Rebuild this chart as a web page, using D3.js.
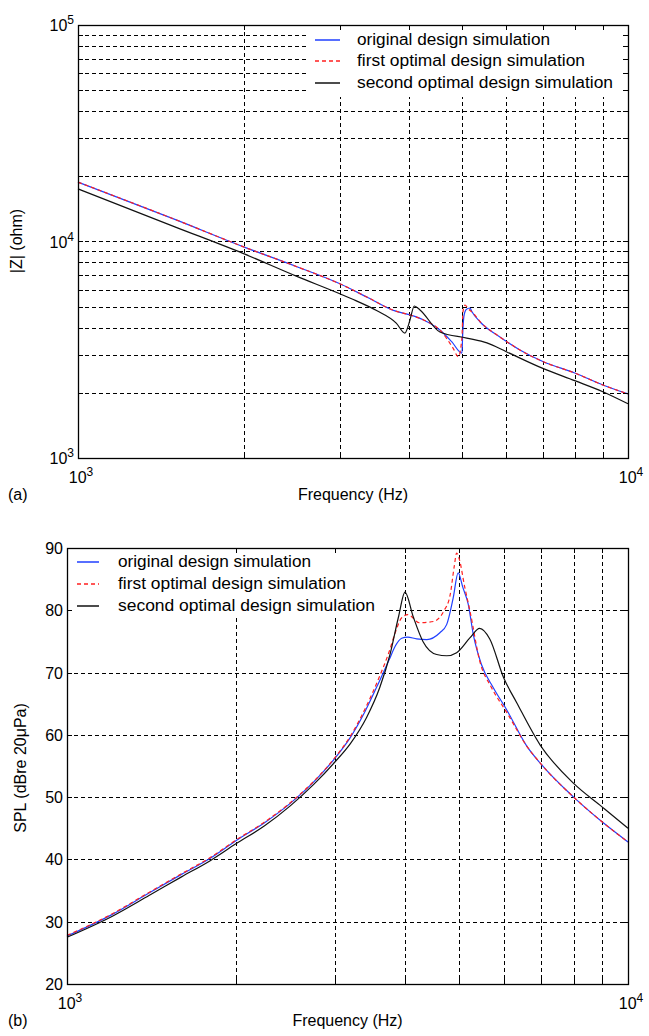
<!DOCTYPE html>
<html><head><meta charset="utf-8">
<script src="https://cdn.jsdelivr.net/npm/d3@7"></script>
<style>
body{margin:0;background:#fff}
text{font-family:"Liberation Sans",Arial,Helvetica,sans-serif;fill:#000}
</style>
</head><body>
<svg id="chart" width="649" height="1036"></svg>
<script>
// ---------- DATA ----------
const seriesNames = ["original design simulation", "first optimal design simulation", "second optimal design simulation"];

// (a) impedance |Z| (ohm) vs frequency (Hz)
const zFreqOriginal = [1000,1500,2000,2500,3000,3370,3770,4015,4250,4550,4780,4990,5005,5030,5080,5160,5200,5380,5850,6360,7000,8000,9000,10000];
const zOriginal     = [18800,12650,9450,7650,6360,5500,4780,4580,4340,3900,3445,3050,3700,4500,4850,4930,4750,4260,3620,3155,2790,2470,2175,1977];
const zFreqFirst    = [1000,1500,2000,2500,3000,3370,3770,4015,4250,4550,4810,4915,4990,5010,5053,5120,5233,5383,5850,6360,7000,8000,9000,10000];
const zFirst        = [18800,12650,9450,7650,6360,5500,4780,4580,4340,3900,3210,2937,3600,4700,5090,4900,4660,4264,3620,3155,2790,2470,2175,1977];
const zFreqSecond   = [1000,1500,2000,2500,3000,3200,3490,3790,3931,3975,4015,4088,4186,4550,5090,5540,6020,7000,8000,9000,10000];
const zSecond       = [17500,11690,8790,6900,5720,5330,4800,4200,3777,4000,4350,5037,4830,3820,3580,3400,3090,2594,2277,2024,1780];

// (b) SPL (dB re 20 uPa) vs frequency (Hz)
const sFreqOriginal = [1000,1200,1400,1600,1800,2000,2250,2500,2750,3000,3200,3400,3600,3750,3850,3950,4050,4200,4380,4620,4750,4880,4980,5080,5190,5300,5480,5750,6080,6600,7000,8000,9000,10000];
const sOriginal     = [27.7,31.1,34.6,37.6,40.2,43.0,45.9,49.0,52.4,56.2,59.6,63.8,68.5,72.0,74.3,75.5,75.7,75.4,75.3,76.4,77.7,82.0,86.0,83.6,81.0,76.1,71.3,67.6,64.0,58.2,55.3,50.0,46.0,42.8];
const sFreqFirst    = [1000,1200,1400,1600,1800,2000,2250,2500,2750,3000,3200,3400,3600,3750,3850,3950,4050,4250,4500,4690,4820,4900,4950,5000,5120,5230,5440,5710,6080,6600,7000,8000,9000,10000];
const sFirst        = [27.8,31.2,34.7,37.7,40.3,43.1,46.0,49.1,52.5,56.3,59.8,64.2,69.2,73.3,76.5,78.8,79.3,78.0,78.2,79.8,82.5,87.0,89.2,88.3,83.6,79.8,71.9,67.6,63.6,58.2,55.3,50.0,46.0,42.8];
const sFreqSecond   = [1000,1200,1400,1600,1800,2000,2250,2500,2750,3000,3200,3420,3610,3765,3900,4004,4140,4310,4560,4750,4950,5230,5440,5670,6000,6330,6970,8000,9000,10000];
const sSecond       = [27.5,30.8,34.2,37.2,39.8,42.5,45.4,48.6,52.0,55.6,58.6,62.8,67.6,72.9,79.0,82.9,79.0,75.0,72.9,72.7,73.2,75.6,77.1,75.4,69.2,65.2,58.4,52.2,48.4,45.0];

const xGridFreqs = [2000,3000,4000,5000,6000,7000,8000,9000];
const zGridValues = [2000,3000,4000,5000,6000,7000,8000,9000,10000,20000,30000,40000,50000,60000,70000,80000,90000];
const zTickExponents = [3,4,5];
const xTickExponents = [3,4];
const splTicks = [20,30,40,50,60,70,80,90];
const splGrid = [30,40,50,60,70,80];

const seriesColors = ["#1f3fff", "#ff1f1f", "#111111"];
const seriesDash = [null, "4,3", null];

// ---------- DRAW ----------
const svg = d3.select("#chart");
svg.append("rect").attr("width",649).attr("height",1036).attr("fill","#fff");

function supLabel(g, x, y, exp, anchor){
  const t = g.append("text").attr("x",x).attr("y",y).attr("text-anchor",anchor).attr("font-size",16);
  t.append("tspan").text("10");
  t.append("tspan").attr("dy",-7).attr("font-size",12).text(exp);
  return t;
}

function drawPanel(cfg){
  const g = svg.append("g");
  const x = d3.scaleLog().domain([1000,10000]).range([cfg.left,cfg.right]);
  const y = cfg.yScale;
  const gridStyle = s => s.attr("stroke","#000").attr("stroke-width",1).attr("stroke-dasharray","4,3").attr("fill","none");
  // grid
  g.selectAll(".vg").data(xGridFreqs).join("line")
    .attr("x1",d=>Math.round(x(d))+0.5).attr("x2",d=>Math.round(x(d))+0.5)
    .attr("y1",cfg.top).attr("y2",cfg.bottom).call(gridStyle);
  g.selectAll(".hg").data(cfg.yGrid).join("line")
    .attr("x1",cfg.left).attr("x2",cfg.right)
    .attr("y1",d=>Math.round(y(d))+0.5).attr("y2",d=>Math.round(y(d))+0.5).call(gridStyle);
  // series
  const line = d3.line().x(d=>x(d[0])).y(d=>y(d[1])).curve(d3.curveMonotoneX);
  cfg.series.forEach((s,i)=>{
    const pts = s.f.map((f,j)=>[f,s.v[j]]);
    g.append("path").attr("d",line(pts)).attr("fill","none")
      .attr("stroke",seriesColors[i]).attr("stroke-width",1.2)
      .attr("stroke-dasharray",seriesDash[i]);
  });
  // legend
  const L = cfg.legend;
  g.append("rect").attr("x",L.x0).attr("y",L.y0).attr("width",L.x1-L.x0).attr("height",L.y1-L.y0).attr("fill","#fff");
  seriesNames.forEach((name,i)=>{
    const ly = L.rows[i];
    g.append("line").attr("x1",L.lx0).attr("x2",L.lx1).attr("y1",ly).attr("y2",ly)
      .attr("stroke",seriesColors[i]).attr("stroke-width",1.5).attr("stroke-dasharray",seriesDash[i]);
    g.append("text").attr("x",L.tx).attr("y",ly+5).attr("font-size",16)
      .attr("textLength",L.widths[i]).attr("lengthAdjust","spacingAndGlyphs").text(name);
  });
  // frame
  g.append("rect").attr("x",cfg.left+0.5).attr("y",cfg.top+0.5)
    .attr("width",cfg.right-cfg.left).attr("height",cfg.bottom-cfg.top)
    .attr("fill","none").attr("stroke","#000").attr("stroke-width",1.3);
  // inner ticks
  const tk = 5;
  xGridFreqs.forEach(d=>{
    const xx = Math.round(x(d))+0.5;
    g.append("line").attr("x1",xx).attr("x2",xx).attr("y1",cfg.top).attr("y2",cfg.top+tk).attr("stroke","#000");
    g.append("line").attr("x1",xx).attr("x2",xx).attr("y1",cfg.bottom).attr("y2",cfg.bottom-tk).attr("stroke","#000");
  });
  cfg.yGrid.forEach(d=>{
    const yy = Math.round(y(d))+0.5;
    g.append("line").attr("x1",cfg.left).attr("x2",cfg.left+tk).attr("y1",yy).attr("y2",yy).attr("stroke","#000");
    g.append("line").attr("x1",cfg.right).attr("x2",cfg.right-tk).attr("y1",yy).attr("y2",yy).attr("stroke","#000");
  });
  // x tick labels
  xTickExponents.forEach(e=>{
    supLabel(g, x(Math.pow(10,e))+3, cfg.bottom+25, e, "middle");
  });
  // titles
  g.append("text").attr("x",(cfg.left+cfg.right)/2).attr("y",cfg.bottom+42)
    .attr("text-anchor","middle").attr("font-size",16).text("Frequency (Hz)");
  g.append("text").attr("x",8).attr("y",cfg.bottom+42).attr("font-size",16).text(cfg.tag);
  g.append("text").attr("transform",`translate(${cfg.ytx},${cfg.yty}) rotate(-90)`)
    .attr("text-anchor","middle").attr("font-size",16).text(cfg.ytitle);
  return {g,x,y};
}

// panel (a)
const yZ = d3.scaleLog().domain([1000,100000]).range([458,25]);
const pa = drawPanel({
  left:78, right:628, top:25, bottom:458, yScale:yZ, yGrid:zGridValues,
  series:[{f:zFreqOriginal,v:zOriginal},{f:zFreqFirst,v:zFirst},{f:zFreqSecond,v:zSecond}],
  legend:{x0:308,x1:627,y0:27,y1:97,rows:[40,61,83],lx0:315,lx1:340,tx:357,widths:[193,228,256]},
  tag:"(a)", ytitle:"|Z| (ohm)", ytx:22, yty:241
});
zTickExponents.forEach(e=>{
  supLabel(pa.g, 74, yZ(Math.pow(10,e))+6, e, "end");
});

// panel (b)
const yS = d3.scaleLinear().domain([20,90]).range([984,548]);
const pb = drawPanel({
  left:67, right:628, top:548, bottom:984, yScale:yS, yGrid:splGrid,
  series:[{f:sFreqOriginal,v:sOriginal},{f:sFreqFirst,v:sFirst},{f:sFreqSecond,v:sSecond}],
  legend:{x0:68,x1:388,y0:549,y1:617,rows:[562,584,606],lx0:77,lx1:99,tx:118,widths:[193,228,257]},
  tag:"(b)", ytitle:"SPL (dBre 20\u03bcPa)", ytx:26, yty:768
});
splTicks.forEach(v=>{
  pb.g.append("text").attr("x",63).attr("y",yS(v)+6).attr("text-anchor","end").attr("font-size",16).text(v);
});
</script>
</body></html>
